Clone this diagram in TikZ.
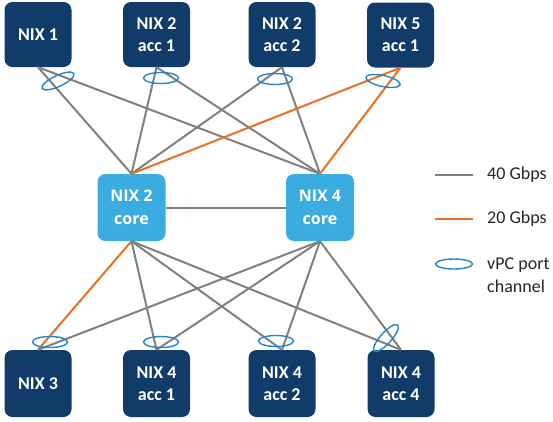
\documentclass[tikz,border=0pt]{standalone}
\usepackage{fontspec}
\setmainfont{Carlito}
\newfontfamily\corefont{Open Sans}
\usetikzlibrary{shapes.geometric}
\definecolor{navy}{RGB}{17,60,106}
\definecolor{corebl}{RGB}{58,172,224}
\definecolor{linkgray}{RGB}{128,128,128}
\definecolor{linkorange}{RGB}{232,112,32}
\definecolor{vpcblue}{RGB}{38,132,200}
\tikzset{
  accbox/.style={draw=none, fill=navy, rounded corners=8pt, minimum width=67pt, minimum height=65pt,
    text=white, font=\fontsize{18}{22}\selectfont\bfseries, align=center, inner sep=0pt},
  corebox/.style={draw=none, fill=corebl, rounded corners=8pt, minimum width=68pt, minimum height=67pt,
    text=white, font=\corefont\fontsize{16}{23}\selectfont\bfseries, align=center, inner sep=0pt},
  g40/.style={draw=linkgray, line width=2pt},
  o20/.style={draw=linkorange, line width=2pt},
  vpc/.style={draw=vpcblue, line width=1.4pt, ellipse, minimum width=35pt, minimum height=11pt, inner sep=0pt},
  legtext/.style={anchor=west, font=\fontsize{18}{23}\selectfont, text=black!85, align=left, inner sep=0pt}
}
\begin{document}
\begin{tikzpicture}[x=1pt,y=-1pt]
\useasboundingbox (0,0) rectangle (553,421);
% top row
\node[accbox] (n1) at (38,34.5) {NIX 1};
\node[accbox] (n2a1) at (156.5,34.5) {NIX 2\\acc 1};
\node[accbox] (n2a2) at (282,34.5) {NIX 2\\acc 2};
\node[accbox] (n5a1) at (400.5,35) {NIX 5\\acc 1};
% cores
\node[corebox] (c2) at (131.5,207.5) {NIX 2\\core};
\node[corebox] (c4) at (320,207.5) {NIX 4\\core};
% bottom row
\node[accbox, minimum height=67pt] (n3) at (38,383.5) {NIX 3};
\node[accbox, minimum height=67pt] (n4a1) at (156.5,383.5) {NIX 4\\acc 1};
\node[accbox, minimum height=67pt] (n4a2) at (282,383.5) {NIX 4\\acc 2};
\node[accbox, minimum height=67pt] (n4a4) at (401,383.5) {NIX 4\\acc 4};
% links top
\draw[g40] (n1.south) -- (c2.north);
\draw[g40] (n1.south) -- (c4.north);
\draw[g40] (n2a1.south) -- (c2.north);
\draw[g40] (n2a1.south) -- (c4.north);
\draw[g40] (n2a2.south) -- (c2.north);
\draw[g40] (n2a2.south) -- (c4.north);
\draw[o20] (n5a1.south) -- (c2.north);
\draw[o20] (n5a1.south) -- (c4.north);
% core-core
\draw[g40] (c2.east) -- (c4.west);
% links bottom
\draw[o20] (c2.south) -- (n3.north);
\draw[g40] (c4.south) -- (n3.north);
\draw[g40] (c2.south) -- (n4a1.north);
\draw[g40] (c4.south) -- (n4a1.north);
\draw[g40] (c2.south) -- (n4a2.north);
\draw[g40] (c4.south) -- (n4a2.north);
\draw[g40] (c2.south) -- (n4a4.north);
\draw[g40] (c4.south) -- (n4a4.north);
% vPC ellipses
\node[vpc, rotate=25] (v1) at (58,81) {};
\node[vpc] (v2) at (161,78) {};
\node[vpc] (v3) at (275,79) {};
\node[vpc, rotate=-12] (v4) at (383,81) {};
\node[vpc] (v5) at (50,342) {};
\node[vpc] (v6) at (161,342) {};
\node[vpc] (v7) at (276,341) {};
\node[vpc, rotate=48] (v8) at (386,338) {};
% legend
\coordinate (l1a) at (435,175); \coordinate (l1b) at (473,175);
\coordinate (l2a) at (435,219); \coordinate (l2b) at (473,219);
\draw[g40] (l1a) -- (l1b);
\draw[o20] (l2a) -- (l2b);
\node[vpc, minimum width=37pt, minimum height=10pt] (lv) at (454,264) {};
\node[legtext] (t1) at (487,175) {40 Gbps};
\node[legtext] (t2) at (487,219) {20 Gbps};
\node[legtext] (t3) at (487,275) {vPC port\\channel};
\end{tikzpicture}
\end{document}
